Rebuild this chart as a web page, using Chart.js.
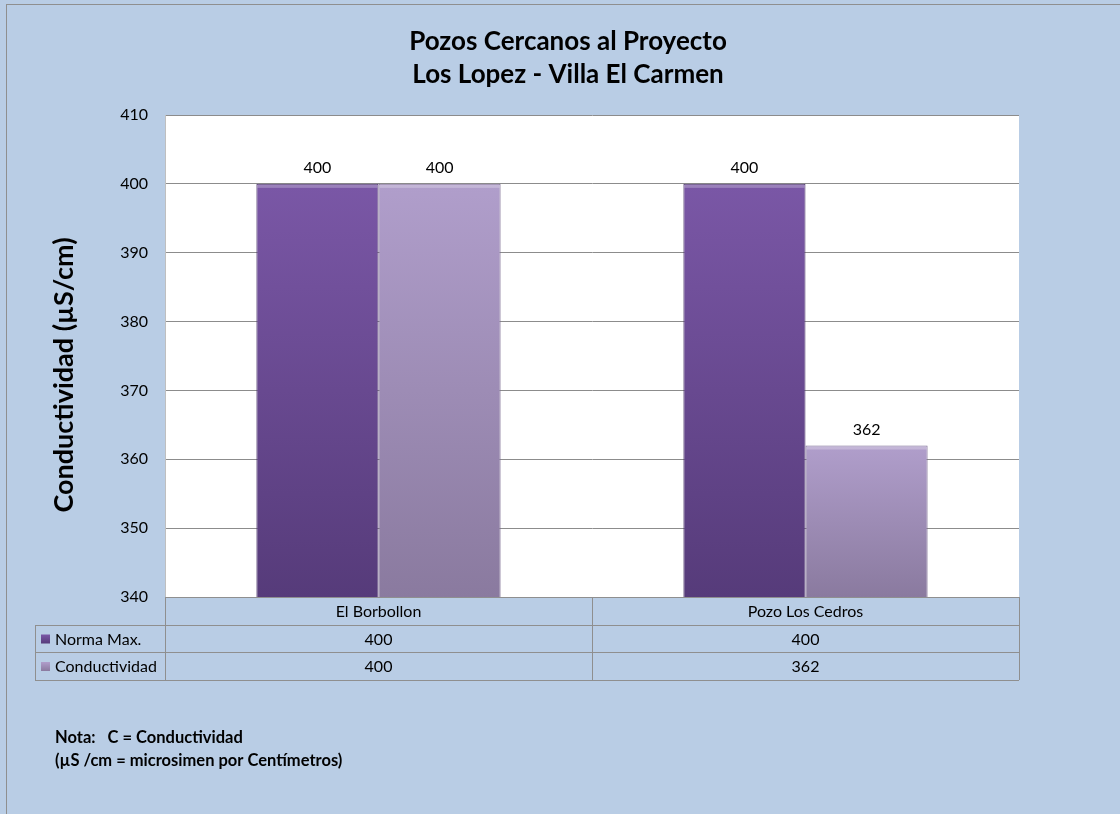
<!DOCTYPE html>
<html lang="es">
<head>
    <meta charset="UTF-8">
    <title>Pozos Cercanos al Proyecto</title>
    <script src="https://cdn.jsdelivr.net/npm/chart.js@4/dist/chart.umd.min.js"></script>
    <style>
        html, body { margin: 0; padding: 0; background: #b9cde5; }
        #grafica { display: block; }
    </style>
</head>
<body>
    <canvas id="grafica" width="1120" height="814"></canvas>

    <script>
        // datos del grafico
        const categorias = ['El Borbollon', 'Pozo Los Cedros'];
        const serieNombres = ['Norma Max.', 'Conductividad'];
        const normaMax = [400, 400];
        const conductividad = [400, 362];
        const ejeMin = 340, ejeMax = 410, ejePaso = 10;

        const titulo = ['Pozos Cercanos al Proyecto', 'Los Lopez - Villa El Carmen'];
        const tituloEje = 'Conductividad (µS/cm)';
        const nota = ['Nota:   C = Conductividad', '(µS /cm = microsimen por Centímetros)'];

        const fuente = 'Lato, "Open Sans", sans-serif';
        const fondo = '#b9cde5';
        const borde = '#8f8f8f';

        // colores (arriba, abajo) de cada serie
        const colores = [['#7a57a6', '#563b7a'], ['#b09ecb', '#8a7a9f']];

        function degradado(ctx, serie) {
            const chart = ctx.chart;
            const y = chart.scales.y;
            const valor = ctx.raw;
            if (!chart.chartArea || !y || typeof valor !== 'number') return colores[serie][0];
            const top = y.getPixelForValue(valor);
            const bottom = y.getPixelForValue(ejeMin);
            if (!isFinite(top) || !isFinite(bottom)) return colores[serie][0];
            const g = chart.ctx.createLinearGradient(0, top, 0, bottom);
            g.addColorStop(0, colores[serie][0]);
            g.addColorStop(1, colores[serie][1]);
            return g;
        }

        // fondo azul, marco y area blanca del grafico
        const pluginFondo = {
            id: 'fondo',
            beforeDraw(chart) {
                const c = chart.ctx;
                const a = chart.chartArea;
                c.save();
                c.fillStyle = fondo;
                c.fillRect(0, 0, chart.width, chart.height);
                c.strokeStyle = borde;
                c.lineWidth = 1;
                c.strokeRect(6.5, 4.5, chart.width + 20, chart.height + 20);
                c.fillStyle = '#ffffff';
                c.fillRect(a.left, a.top, a.right - a.left, a.bottom - a.top);
                c.restore();
            }
        };

        // titulo, titulo del eje, etiquetas, tabla de datos y nota
        const pluginTextos = {
            id: 'textos',
            afterDraw(chart) {
                const c = chart.ctx;
                const a = chart.chartArea;
                const x = chart.scales.x;
                c.save();
                c.fillStyle = '#000';
                c.textAlign = 'center';
                c.textBaseline = 'middle';

                // titulo
                c.font = 'bold 26px ' + fuente;
                c.fillText(titulo[0], 568, 42);
                c.fillText(titulo[1], 568, 75);

                // titulo eje y
                c.save();
                c.translate(64, 375);
                c.rotate(-Math.PI / 2);
                c.font = 'bold 27px ' + fuente;
                c.fillText(tituloEje, 0, 0);
                c.restore();

                // brillo superior de las barras
                chart.data.datasets.forEach((ds, i) => {
                    chart.getDatasetMeta(i).data.forEach(bar => {
                        const w = bar.width;
                        c.fillStyle = 'rgba(255,255,255,0.25)';
                        c.fillRect(bar.x - w / 2 + 1, bar.y + 1, w - 2, 3);
                    });
                });
                c.fillStyle = '#000';

                // etiquetas de valores encima de las barras
                c.font = '16px ' + fuente;
                chart.data.datasets.forEach((ds, i) => {
                    chart.getDatasetMeta(i).data.forEach((bar, j) => {
                        c.fillText(String(ds.data[j]), bar.x, bar.y - 16);
                    });
                });

                // tabla de datos
                const filas = [a.bottom, a.bottom + 28, a.bottom + 55, a.bottom + 83];
                const izq = 35;
                const mitades = [];
                for (let i = 0; i < categorias.length; i++) {
                    const prev = i === 0 ? a.left : (x.getPixelForValue(i - 1) + x.getPixelForValue(i)) / 2;
                    mitades.push(prev);
                }
                mitades.push(a.right);

                c.strokeStyle = borde;
                c.lineWidth = 1;
                c.beginPath();
                // horizontales
                c.moveTo(a.left, filas[0] + 0.5); c.lineTo(a.right, filas[0] + 0.5);
                for (let k = 1; k < filas.length; k++) {
                    c.moveTo(izq, filas[k] + 0.5); c.lineTo(a.right, filas[k] + 0.5);
                }
                // verticales
                c.moveTo(izq + 0.5, filas[1]); c.lineTo(izq + 0.5, filas[3]);
                mitades.forEach(m => {
                    c.moveTo(Math.round(m) + 0.5, filas[0]); c.lineTo(Math.round(m) + 0.5, filas[3]);
                });
                c.stroke();

                c.font = '16px ' + fuente;
                categorias.forEach((cat, i) => {
                    const cx = x.getPixelForValue(i);
                    c.fillText(cat, cx, (filas[0] + filas[1]) / 2 + 1);
                    chart.data.datasets.forEach((ds, s) => {
                        c.fillText(String(ds.data[i]), cx, (filas[s + 1] + filas[s + 2]) / 2 + 1);
                    });
                });

                // leyenda en la tabla
                c.textAlign = 'left';
                serieNombres.forEach((nombre, s) => {
                    const cy = (filas[s + 1] + filas[s + 2]) / 2;
                    const g = c.createLinearGradient(0, cy - 4, 0, cy + 5);
                    g.addColorStop(0, colores[s][0]);
                    g.addColorStop(1, colores[s][1]);
                    c.fillStyle = g;
                    c.fillRect(41, cy - 4, 9, 9);
                    c.fillStyle = '#000';
                    c.fillText(nombre, 55, cy + 1);
                });

                // nota
                c.font = 'bold 16.5px ' + fuente;
                c.fillText(nota[0], 55, 738);
                c.fillText(nota[1], 55, 761);

                c.restore();
            }
        };

        const grafica = new Chart(document.getElementById('grafica'), {
            type: 'bar',
            data: {
                labels: categorias,
                datasets: [{
                    label: serieNombres[0],
                    data: normaMax,
                    backgroundColor: ctx => degradado(ctx, 0),
                    borderColor: '#4a3368',
                    borderWidth: 1
                }, {
                    label: serieNombres[1],
                    data: conductividad,
                    backgroundColor: ctx => degradado(ctx, 1),
                    borderColor: '#7d6e93',
                    borderWidth: 1
                }]
            },
            options: {
                responsive: false,
                animation: false,
                layout: { padding: { top: 115, left: 0, right: 101, bottom: 217 } },
                datasets: {
                    bar: { categoryPercentage: 0.572, barPercentage: 1.0 }
                },
                plugins: {
                    legend: { display: false },
                    title: { display: false },
                    tooltip: { enabled: false }
                },
                scales: {
                    x: {
                        display: false
                    },
                    y: {
                        min: ejeMin,
                        max: ejeMax,
                        ticks: {
                            stepSize: ejePaso,
                            color: '#000',
                            padding: 17,
                            font: { family: fuente, size: 16 }
                        },
                        grid: { color: '#8c8c8c', drawTicks: false },
                        border: { color: '#bfbfbf' },
                        afterFit(scale) { scale.width = 165; }
                    }
                }
            },
            plugins: [pluginFondo, pluginTextos]
        });
    </script>
</body>
</html>
